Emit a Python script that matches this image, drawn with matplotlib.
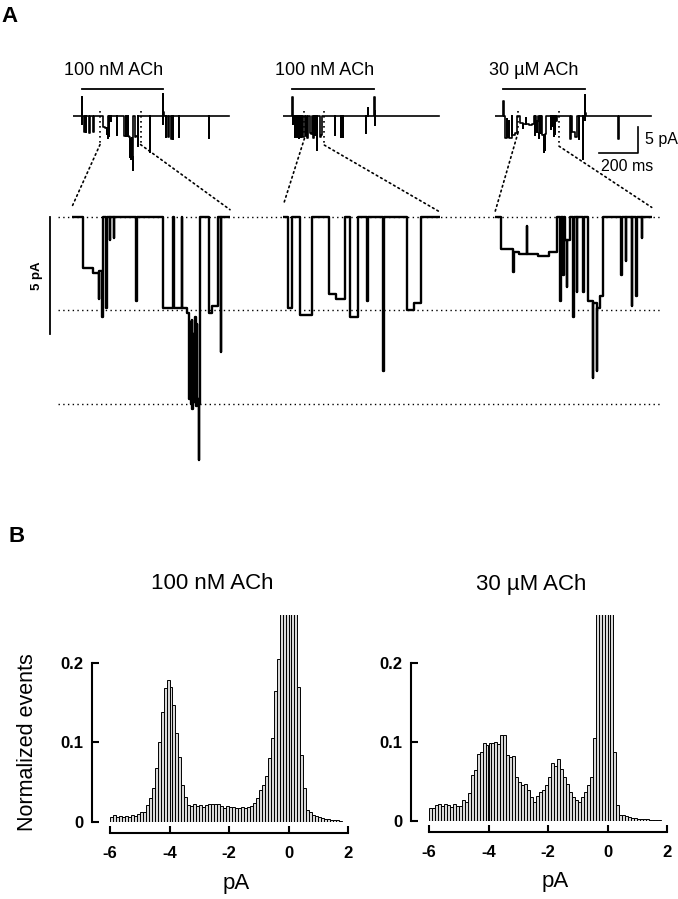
import numpy as np
import matplotlib.pyplot as plt
from matplotlib.patches import ConnectionPatch
from matplotlib.transforms import blended_transform_factory

plt.rcParams['font.family'] = ['Liberation Sans', 'DejaVu Sans']

W, H = 678, 899

# ---------------- panel A: single channel records (ms, pA) ----------------
rec_names = ["100 nM ACh", "100 nM ACh", "30 \u00b5M ACh"]
label_t = [207, 215, 200]
stim_on = [46, 48, 43]
stim_off = [463, 468, 462]

rec1_t = [0, 46, 47, 48, 60, 62, 68, 70, 85, 87, 105, 107,
          155.3, 168, 175.5, 176.5, 179.4, 180.7, 185, 185.8, 190, 190.5, 195, 195.5,
          224.5, 225.3, 260.4, 273.5, 274.3, 284.5, 285.3, 291, 294.5, 296, 296.7,
          298, 298.7, 300, 300.7, 302, 302.7, 304, 304.7, 307.3, 307.9, 308.6,
          320.8, 324, 332.6, 335.8, 336.5,
          396, 397.5, 463, 464, 465, 466, 478, 479.5, 490, 491.5, 505, 507, 512, 514,
          545, 547, 697, 699, 800]
rec1_i = [0, 3.7, -1.6, 0, -3.0, 0, -3.0, 0, -3.2, 0, -3.0, 0,
          -2.2, -2.4, -3.5, -2.3, -4.3, 0, -3.9, 0, -1.0, 0, -0.9, 0,
          -3.6, 0, -3.9, 0, -3.9, 0, -3.9, -4.1, -7.8, -4.5, -8.0,
          -4.4, -8.2, -5.0, -7.9, -4.3, -8.1, -4.6, -7.8, -10.4, -8.0, 0,
          -4.1, -3.8, 0, -5.8, 0,
          -7.0, 0, 4.2, -1.5, 0.8, 0, -4.1, 0, -4.1, 0, -4.4, 0, -4.4, 0,
          -4.0, 0, -4.2, 0, 0]

rec2_t = [0, 48, 49, 50, 62, 64, 70, 73, 80, 84, 90, 93, 98, 103,
          113.2, 115.8, 120.8, 128.8, 139.6, 144, 150.1, 153.3, 158.9, 164.2, 164.9,
          174.9, 175.5, 190.5, 195, 199.9,
          267, 268, 297, 299, 306, 308, 424, 425, 434, 435, 468, 469, 470, 471, 472, 800]
rec2_i = [0, 3.7, -1.5, 0, -4.0, 0, -4.0, 0, -4.2, 0, -4.0, 0, -4.1, 0,
          -3.9, 0, -4.2, 0, -3.3, -3.5, 0, -4.3, 0, -3.6, 0,
          -6.6, 0, -4.0, -3.7, 0,
          -3.6, 0, -4.0, 0, -4.0, 0, -3.3, 0, 1.5, 0, 3.7, -1.8, 1.0, -1.0, 0, 0]

rec3_t = [0, 43, 44.5, 52, 60, 61, 72, 73, 85, 88, 100, 112,
          125.6, 142.5, 143.2, 150, 160.5, 161.2, 175, 190, 200.7,
          205.1, 206, 209.6, 210.3, 212, 214, 215, 218, 223, 223.8, 227.5, 228.3,
          236.4, 237.2, 243, 249, 249.7, 254.3, 255, 258.8, 263.2,
          286.9, 287.6, 293.6, 294.2, 301.2, 302, 307, 307.7, 314.6, 315.3,
          385, 387, 395, 410, 420, 430, 432, 450, 451.5, 461, 462, 463.5, 465,
          632, 633.5, 800]
rec3_i = [0, 2.9, 0, -4.2, -0.5, -4.0, -1.0, -4.3, 0, -3.6, -3.2, 0,
          -1.4, -2.35, -1.5, -1.6, -0.4, -1.6, -1.7, -1.5, 0,
          -3.6, 0, -2.5, 0, -1.0, -3.0, -1.0, 0, -4.3, 0, -3.2, 0,
          -3.2, 0, -3.6, -6.9, -3.7, -6.6, -3.9, -3.4, 0,
          -2.5, 0, -1.9, 0, -3.8, 0, -3.4, 0, -0.9, 0,
          -4.4, 0, -3.0, -4.0, 0, -4.4, 0, -8.3, 0, 4.0, -0.7, 0.6, 0,
          -4.5, 0, 0]

records = [(rec1_t, rec1_i), (rec2_t, rec2_i), (rec3_t, rec3_i)]
zoom_win = [(140, 348), (110, 212), (118, 328)]
link_knee = [(-5.5, -5.5), (-4.3, -5.6), (-3.2, -5.8)]
link_end = [(0.4, 0.3), (0.5, 0.2), (0.2, 0.4)]
levels = [0, -4, -8]

# ---------------- panel B: amplitude histograms ----------------
bin_left = np.arange(78) * 0.1 - 6.0
hist_100nM = [
    0.006, 0.009, 0.006, 0.007, 0.006, 0.007, 0.006, 0.009, 0.007, 0.010,
    0.012, 0.013, 0.021, 0.030, 0.043, 0.068, 0.100, 0.138, 0.168, 0.178,
    0.170, 0.147, 0.112, 0.082, 0.047, 0.032, 0.021, 0.020, 0.022, 0.020,
    0.021, 0.019, 0.021, 0.022, 0.023, 0.023, 0.022, 0.020, 0.018, 0.020,
    0.019, 0.019, 0.018, 0.017, 0.019, 0.018, 0.019, 0.020, 0.024, 0.030,
    0.040, 0.047, 0.058, 0.080, 0.105, 0.165, 0.205, 0.30, 0.42, 0.55,
    0.62, 0.50, 0.33, 0.170, 0.084, 0.043, 0.015, 0.013, 0.009, 0.008,
    0.006, 0.005, 0.004, 0.004, 0.003, 0.003, 0.002, 0.001]
hist_30uM = [
    0.017, 0.017, 0.020, 0.021, 0.019, 0.021, 0.020, 0.018, 0.021, 0.019,
    0.019, 0.027, 0.024, 0.035, 0.058, 0.064, 0.085, 0.087, 0.099, 0.096,
    0.099, 0.098, 0.100, 0.097, 0.108, 0.108, 0.083, 0.081, 0.082, 0.056,
    0.049, 0.045, 0.047, 0.039, 0.030, 0.024, 0.032, 0.037, 0.039, 0.045,
    0.056, 0.073, 0.070, 0.078, 0.066, 0.056, 0.047, 0.037, 0.030, 0.027,
    0.024, 0.030, 0.037, 0.045, 0.056, 0.105, 0.32, 0.55, 0.70, 0.66,
    0.48, 0.31, 0.087, 0.020, 0.008, 0.008, 0.006, 0.005, 0.004, 0.004,
    0.003, 0.003, 0.002, 0.002, 0.001, 0.001, 0.001, 0.001]
hist_titles = ["100 nM ACh", "30 \u00b5M ACh"]

fig = plt.figure(figsize=(W / 100, H / 100), dpi=100)


def add_px_axes(x0, y0, x1, y1, **kw):
    # place an axes by its pixel box (top-left origin)
    return fig.add_axes([x0 / W, 1 - y1 / H, (x1 - x0) / W, (y1 - y0) / H], **kw)


dot_style = (0, (1, 2))

# horizontal reference levels
ax_lv = add_px_axes(58, 174.6, 660, 485.8, zorder=0)
ax_lv.set_ylim(-11.5, 1.8)
ax_lv.set_xlim(0, 1)
for lv in levels:
    ax_lv.axhline(lv, color='k', lw=1.0, ls=(0, (1, 2.4)))
ax_lv.axis('off')
tr = blended_transform_factory(ax_lv.transAxes, ax_lv.transData)
ax_lv.plot([-0.013, -0.013], [0, -5], color='k', lw=1.3, transform=tr, clip_on=False)
ax_lv.text(-0.035, -2.5, "5 pA", rotation=90, ha='center', va='center',
           fontsize=9.5, fontweight='bold', transform=tr)

top_left = [72.7, 283.0, 495.0]
bot_box = [(71.7, 230), (283.3, 440), (495, 651.7)]

for k, (t, i) in enumerate(records):
    ax_t = add_px_axes(top_left[k], 58.8, top_left[k] + 160, 183.6, zorder=2)
    ax_t.set_facecolor('none')
    ax_t.plot(t, i, color='k', lw=1.2, drawstyle='steps-post')
    ax_t.set_xlim(0, 820)
    ax_t.set_ylim(-13, 11)
    ax_t.plot([stim_on[k], stim_off[k]], [5.2, 5.2], color='k', lw=1.3)
    ax_t.text(label_t[k], 8.8, rec_names[k], ha='center', va='center', fontsize=13)
    ax_t.axis('off')

    ax_b = add_px_axes(bot_box[k][0], 174.6, bot_box[k][1], 485.8, zorder=1)
    ax_b.set_facecolor('none')
    ax_b.plot(t, i, color='k', lw=1.7, drawstyle='steps-post')
    ax_b.set_xlim(*zoom_win[k])
    ax_b.set_ylim(-11.5, 1.8)
    ax_b.axis('off')

    # dotted lines linking the expanded stretch to the full record
    for side in range(2):
        tw = zoom_win[k][side]
        ax_t.plot([tw, tw], [1.0, link_knee[k][side]], color='k', lw=1.2, ls=dot_style)
        con = ConnectionPatch(xyA=(tw, link_knee[k][side]), coordsA=ax_t.transData,
                              xyB=(tw, link_end[k][side]), coordsB=ax_b.transData,
                              color='k', lw=1.2, ls=dot_style)
        fig.add_artist(con)

    if k == 2:
        # scale bars 200 ms / 5 pA
        ax_t.plot([533, 733, 733], [-7.1, -7.1, -2.1], color='k', lw=1.2)
        ax_t.text(769, -4.6, "5 pA", ha='left', va='center', fontsize=11.5)
        ax_t.text(677, -9.8, "200 ms", ha='center', va='center', fontsize=11.5)

# ---------------- panel B ----------------
hist_boxes = [(110, 615, 348, 822), (429, 615, 667, 821)]
for k, vals in enumerate([hist_100nM, hist_30uM]):
    x0, y0, x1, y1 = hist_boxes[k]
    ax = add_px_axes(x0, y0, x1, y1)
    ax.bar(bin_left, vals, width=0.1, align='edge', color='#d9d9d9',
           edgecolor='k', linewidth=0.7)
    ax.set_xlim(-6, 2)
    ax.set_ylim(0, 0.26)
    for s in ['top', 'right']:
        ax.spines[s].set_visible(False)
    ax.spines['left'].set_position(('outward', 13))
    ax.spines['bottom'].set_position(('outward', 8))
    ax.spines['left'].set_bounds(0, 0.2)
    ax.spines['bottom'].set_bounds(-6, 2)
    for s in ['left', 'bottom']:
        ax.spines[s].set_linewidth(1.5)
    ax.set_yticks([0, 0.1, 0.2])
    ax.set_yticklabels(['0', '0.1', '0.2'])
    ax.set_xticks([-6, -4, -2, 0, 2])
    ax.set_xticklabels(['-6', '-4', '-2', '0', '2'])
    ax.tick_params(axis='both', direction='in', length=5, width=1.5,
                   labelsize=12)
    ax.tick_params(axis='y', pad=6)
    ax.tick_params(axis='x', pad=9)
    for lab in ax.get_xticklabels() + ax.get_yticklabels():
        lab.set_fontweight('bold')
    ax.text(0.43, 1.15, hist_titles[k], transform=ax.transAxes, ha='center',
            va='center', fontsize=16)
    ax.text(0.53, -0.295, "pA", transform=ax.transAxes, ha='center',
            va='center', fontsize=16)
    if k == 0:
        ax.text(-0.345, 0.385, "Normalized events", transform=ax.transAxes,
                rotation=90, ha='center', va='center', fontsize=15.5)

fig.text(10 / W, 1 - 17 / H, "A", fontsize=16, fontweight='heavy', ha='center', va='center')
fig.text(17 / W, 1 - 537 / H, "B", fontsize=16, fontweight='heavy', ha='center', va='center')

fig.savefig("out.png", dpi=100, facecolor='white')
